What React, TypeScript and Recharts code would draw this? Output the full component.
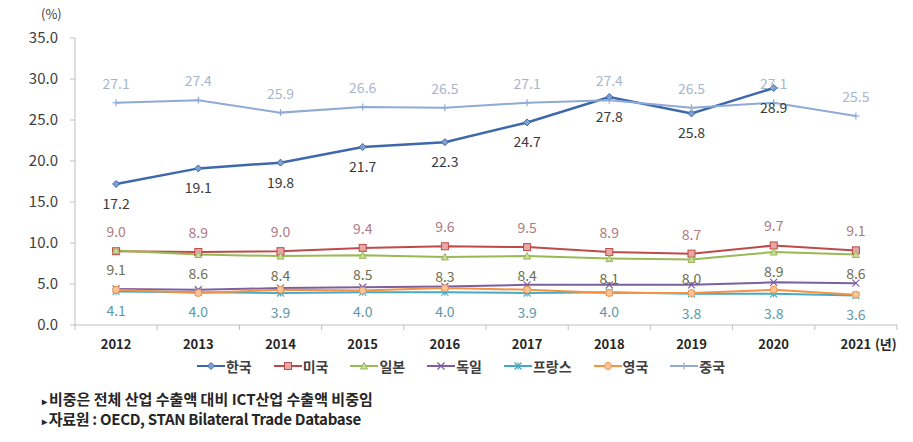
import React from 'react';
import { LineChart, Line, XAxis, YAxis, Legend } from 'recharts';

const years = ['2012', '2013', '2014', '2015', '2016', '2017', '2018', '2019', '2020', '2021'];
const korea = [17.2, 19.1, 19.8, 21.7, 22.3, 24.7, 27.8, 25.8, 28.9, null];
const usa = [9.0, 8.9, 9.0, 9.4, 9.6, 9.5, 8.9, 8.7, 9.7, 9.1];
const japan = [9.1, 8.6, 8.4, 8.5, 8.3, 8.4, 8.1, 8.0, 8.9, 8.6];
const germany = [4.4, 4.3, 4.5, 4.6, 4.7, 4.9, 4.9, 4.9, 5.2, 5.1];
const france = [4.1, 4.0, 3.9, 4.0, 4.0, 3.9, 4.0, 3.8, 3.8, 3.6];
const uk = [4.3, 3.9, 4.3, 4.2, 4.5, 4.3, 3.9, 3.9, 4.3, 3.7];
const china = [27.1, 27.4, 25.9, 26.6, 26.5, 27.1, 27.4, 26.5, 27.1, 25.5];
const yTicks = [0, 5, 10, 15, 20, 25, 30, 35];
const yearUnit = '(년)';
const yUnit = '(%)';
const notes = [
  '비중은 전체 산업 수출액 대비 ICT산업 수출액 비중임',
  '자료원 : OECD, STAN Bilateral Trade Database',
];

type Shape = 'diamond' | 'square' | 'triangle' | 'x' | 'star' | 'circle' | 'plus';
type Series = {
  key: string;
  name: string;
  values: (number | null)[];
  color: string;
  fill: string;
  labelColor: string | null;
  above: boolean;
  shape: Shape;
  width: number;
};

const series: Series[] = [
  { key: 'korea', name: '한국', values: korea, color: '#3E68AC', fill: '#7FA0D0', labelColor: '#3A3A3A', above: false, shape: 'diamond', width: 2.5 },
  { key: 'usa', name: '미국', values: usa, color: '#BE4B48', fill: '#E6A9A7', labelColor: '#B07A82', above: true, shape: 'square', width: 2 },
  { key: 'japan', name: '일본', values: japan, color: '#98B954', fill: '#C9DC9E', labelColor: '#6E6E52', above: false, shape: 'triangle', width: 2 },
  { key: 'germany', name: '독일', values: germany, color: '#7D5FA0', fill: '#B4A2CC', labelColor: null, above: true, shape: 'x', width: 2 },
  { key: 'france', name: '프랑스', values: france, color: '#46AAC4', fill: '#9ED3E2', labelColor: '#5E98A8', above: false, shape: 'star', width: 2 },
  { key: 'uk', name: '영국', values: uk, color: '#F39242', fill: '#F9C497', labelColor: null, above: true, shape: 'circle', width: 2 },
  { key: 'china', name: '중국', values: china, color: '#8FAAD6', fill: '#B8CAE6', labelColor: '#A8B6CC', above: true, shape: 'plus', width: 2 },
];

const data = years.map((year, i) => {
  const row: Record<string, any> = { year };
  series.forEach((s) => {
    row[s.key] = s.values[i];
  });
  return row;
});

const FONT = '"Noto Sans CJK KR", "Noto Sans", sans-serif';
const AXIS = '#BFBFBF';

const renderMarker = (shape: Shape, cx: number, cy: number, color: string, fill: string, key?: any) => {
  const r = 3.5;
  switch (shape) {
    case 'diamond':
      return <polygon key={key} points={`${cx},${cy - r} ${cx + r},${cy} ${cx},${cy + r} ${cx - r},${cy}`} fill={fill} stroke={color} strokeWidth={1} />;
    case 'square':
      return <rect key={key} x={cx - r} y={cy - r} width={2 * r} height={2 * r} fill={fill} stroke={color} strokeWidth={1} />;
    case 'triangle':
      return <polygon key={key} points={`${cx},${cy - r} ${cx + r},${cy + r - 0.5} ${cx - r},${cy + r - 0.5}`} fill={fill} stroke={color} strokeWidth={1} />;
    case 'x':
      return (
        <g key={key} stroke={color} strokeWidth={1.2}>
          <line x1={cx - r} y1={cy - r} x2={cx + r} y2={cy + r} />
          <line x1={cx - r} y1={cy + r} x2={cx + r} y2={cy - r} />
        </g>
      );
    case 'star':
      return (
        <g key={key} stroke={color} strokeWidth={1.2}>
          <line x1={cx - r} y1={cy - r} x2={cx + r} y2={cy + r} />
          <line x1={cx - r} y1={cy + r} x2={cx + r} y2={cy - r} />
          <line x1={cx} y1={cy - r} x2={cx} y2={cy + r} />
        </g>
      );
    case 'circle':
      return <circle key={key} cx={cx} cy={cy} r={r} fill={fill} stroke={color} strokeWidth={1} />;
    case 'plus':
    default:
      return (
        <g key={key} stroke={color} strokeWidth={1.2}>
          <line x1={cx - r} y1={cy} x2={cx + r} y2={cy} />
          <line x1={cx} y1={cy - r} x2={cx} y2={cy + r} />
        </g>
      );
  }
};

const makeDot = (s: Series) => (p: any) => {
  const { cx, cy, index, payload } = p;
  if (cx == null || cy == null || payload == null || payload[s.key] == null) return <g key={`d-${s.key}-${index}`} />;
  return renderMarker(s.shape, cx, cy, s.color, s.fill, `d-${s.key}-${index}`);
};

const makeLabel = (s: Series) => (p: any) => {
  const { x, y, value, index } = p;
  if (value == null || y == null || x == null) return <g key={`l-${s.key}-${index}`} />;
  return (
    <text
      key={`l-${s.key}-${index}`}
      x={x}
      y={s.above ? y - 14 : y + 25}
      textAnchor="middle"
      fill={s.labelColor as string}
      fontSize={14}
      fontFamily={FONT}
    >
      {Number(value).toFixed(1)}
    </text>
  );
};

const XTick = (p: any) => {
  const { x, y, payload, width, visibleTicksCount } = p;
  const isLast = payload.value === years[years.length - 1];
  const fromOffset = Number(payload.offset);
  const half = fromOffset > 0 ? fromOffset : Number(width) / Number(visibleTicksCount) / 2;
  const axisY = y - 8;
  const ok = Number.isFinite(half) && half > 0;
  return (
    <g>
      {ok && <line x1={x - half} y1={axisY} x2={x - half} y2={axisY + 5} stroke={AXIS} />}
      {ok && isLast && <line x1={x + half} y1={axisY} x2={x + half} y2={axisY + 5} stroke={AXIS} />}
      <text x={x} y={y + 16} textAnchor="middle" fill="#262626" fontSize={13} fontWeight="bold" fontFamily={FONT}>
        {payload.value}
      </text>
      {isLast && (
        <text x={x + 19} y={y + 16} textAnchor="start" fill="#262626" fontSize={13} fontWeight="bold" fontFamily={FONT}>
          {yearUnit}
        </text>
      )}
    </g>
  );
};

const LegendContent = () => (
  <div
    style={{
      display: 'flex',
      justifyContent: 'center',
      alignItems: 'center',
      height: 22,
      gap: 22,
      fontFamily: FONT,
      fontSize: 14,
      fontWeight: 'bold',
      color: '#404040',
    }}
  >
    {series.map((s) => (
      <div key={s.key} style={{ display: 'flex', alignItems: 'center' }}>
        <svg width={28} height={10} style={{ marginRight: 1 }}>
          <line x1={0} y1={5} x2={28} y2={5} stroke={s.color} strokeWidth={2} />
          {renderMarker(s.shape, 14, 5, s.color, s.fill)}
        </svg>
        <span>{s.name}</span>
      </div>
    ))}
  </div>
);

export default function App() {
  return (
    <div style={{ position: 'absolute', left: 0, top: 0, width: 913, height: 442, background: '#fff', fontFamily: FONT }}>
      <div style={{ position: 'absolute', left: 41, top: 4, fontSize: 13, color: '#404040' }}>{yUnit}</div>
      <div style={{ position: 'absolute', left: 0, top: 0 }}>
        <LineChart width={913} height={380} data={data} margin={{ top: 38, right: 16, left: 0, bottom: 3 }}>
          <XAxis
            dataKey="year"
            type="category"
            scale="band"
            interval={0}
            axisLine={{ stroke: AXIS }}
            tickLine={false}
            tickSize={6}
            tickMargin={2}
            tick={<XTick />}
            height={30}
          />
          <YAxis
            domain={[0, 35]}
            ticks={yTicks}
            interval={0}
            width={75}
            tickFormatter={(v: number) => v.toFixed(1)}
            axisLine={{ stroke: AXIS }}
            tickLine={{ stroke: AXIS }}
            tickSize={5}
            tickMargin={12}
            tick={{ fill: '#404040', fontSize: 15, fontFamily: FONT }}
          />
          <Legend verticalAlign="bottom" content={<LegendContent />} wrapperStyle={{ left: 9, width: 904 }} />
          {series.map((s) => (
            <Line
              key={s.key}
              dataKey={s.key}
              name={s.name}
              stroke={s.color}
              strokeWidth={s.width}
              dot={makeDot(s)}
              activeDot={false}
              label={s.labelColor ? makeLabel(s) : false}
              isAnimationActive={false}
              connectNulls={false}
            />
          ))}
        </LineChart>
      </div>
      {notes.map((n, i) => (
        <div
          key={i}
          style={{
            position: 'absolute',
            left: 42,
            top: 388 + i * 20,
            fontSize: 15,
            lineHeight: '22px',
            fontWeight: 'bold',
            color: '#262626',
            whiteSpace: 'nowrap',
            letterSpacing: i === 1 ? '-0.3px' : '0px',
          }}
        >
          <span style={{ fontSize: 10, marginRight: 2, verticalAlign: 'middle' }}>▸</span>
          {n}
        </div>
      ))}
    </div>
  );
}
